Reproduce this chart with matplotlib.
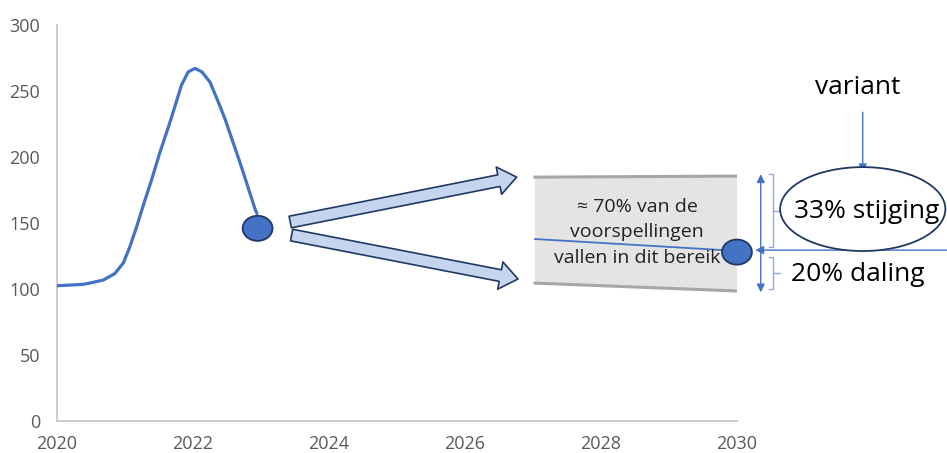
import matplotlib.pyplot as plt
from matplotlib.patches import Ellipse, FancyArrowPatch, Polygon

plt.rcParams['font.family'] = ['Open Sans', 'DejaVu Sans']

# curve
years = [2020.0, 2020.19, 2020.39, 2020.49, 2020.68, 2020.85, 2020.975, 2021.07,
         2021.17, 2021.27, 2021.39, 2021.51, 2021.64, 2021.74, 2021.83, 2021.93,
         2022.03, 2022.13, 2022.25, 2022.37, 2022.47, 2022.57, 2022.69, 2022.81,
         2022.91, 2022.94]
values = [102.5, 103.0, 103.6, 104.6, 106.8, 111.7, 119.7, 131.8,
          147.0, 163.6, 182.6, 203.0, 223.0, 239.4, 254.5, 264.6,
          267.2, 264.6, 256.8, 242.0, 229.0, 214.0, 196.0, 177.0,
          161.0, 157.3]

# markers
pt_now = (2022.95, 146)
pt_end = (2030.0, 128)

# forecast band (left, right)
band_x = [2027.03, 2030.01]
band_top = [184.8, 185.6]
band_bottom = [104.5, 98.5]
band_line = [137.9, 129.5]

xticks = [2020, 2022, 2024, 2026, 2028, 2030]
yticks = [0, 50, 100, 150, 200, 250, 300]

blue = '#4472C4'
navy = '#1F3864'
light = '#8FAADC'

fig = plt.figure(figsize=(9.47, 4.53), dpi=100)
ax = fig.add_axes([0.0602, 0.0706, 0.718, 0.874])
ax.set_xlim(2020, 2030)
ax.set_ylim(0, 300)
ax.set_xticks(xticks)
ax.set_yticks(yticks)
ax.tick_params(length=0, labelsize=13, colors='#595959')
ax.tick_params(axis='y', pad=12)
ax.tick_params(axis='x', pad=10)
for s in ['top', 'right']:
    ax.spines[s].set_visible(False)
for s in ['left', 'bottom']:
    ax.spines[s].set_color('#C8C8C8')
    ax.spines[s].set_linewidth(1.3)

ax.plot(years, values, color=blue, lw=2.3, solid_capstyle='round',
        solid_joinstyle='round', zorder=3)

# band
poly = Polygon([(band_x[0], band_bottom[0]), (band_x[0], band_top[0]),
                (band_x[1], band_top[1]), (band_x[1], band_bottom[1])],
               closed=True, facecolor='#E4E4E4', edgecolor='none', zorder=1)
ax.add_patch(poly)
ax.plot(band_x, band_top, color='#A6A6A6', lw=2.2, zorder=2)
ax.plot(band_x, band_bottom, color='#A6A6A6', lw=2.2, zorder=2)
ax.plot([band_x[0], pt_end[0] - 0.2], band_line, color=blue, lw=1.3, zorder=2)
ax.text(2028.53, 143, '≈ 70% van de\nvoorspellingen\nvallen in dit bereik',
        ha='center', va='center', fontsize=14, color='#222222',
        linespacing=1.55, zorder=4)

# markers
for p in [pt_now, pt_end]:
    ax.add_patch(Ellipse(p, 0.44, 19, facecolor=blue, edgecolor=navy,
                         lw=1.3, zorder=5, clip_on=False))

# block arrows
style = 'Simple,tail_width=8.5,head_width=20,head_length=13'
for start, end in [((2023.43, 150.8), (2026.76, 184.8)),
                   ((2023.45, 140.9), (2026.78, 107.6))]:
    ax.add_patch(FancyArrowPatch(start, end, arrowstyle=style, mutation_scale=1,
                                 facecolor='#C5D5EE', edgecolor=navy, lw=1.2,
                                 shrinkA=0, shrinkB=0, zorder=4))

# right side annotations
ax.annotate('', xy=(2030.35, 187), xytext=(2030.35, 97.5),
            arrowprops=dict(arrowstyle='<|-|>', color=blue, lw=1.0,
                            mutation_scale=12, shrinkA=0, shrinkB=0),
            annotation_clip=False)
ax.annotate('', xy=(2030.27, 129.5), xytext=(2033.2, 129.5),
            arrowprops=dict(arrowstyle='-|>', color=blue, lw=1.0,
                            mutation_scale=12, shrinkA=0, shrinkB=0),
            annotation_clip=False)
ax.annotate('', xy=(2031.85, 188.5), xytext=(2031.85, 234),
            arrowprops=dict(arrowstyle='-|>', color=blue, lw=1.0,
                            mutation_scale=12, shrinkA=0, shrinkB=0),
            annotation_clip=False)

for top, bot in [(187, 131.8), (124.2, 100)]:
    mid = (top + bot) / 2
    bx = 2030.53
    ax.plot([bx - 0.06, bx, bx, bx - 0.06], [top, top, bot, bot],
            color=light, lw=1.0, clip_on=False)
    ax.plot([bx, bx + 0.1], [mid, mid], color=light, lw=1.0, clip_on=False)

ax.add_patch(Ellipse((2031.85, 160.6), 2.43, 63.6, facecolor='white',
                     edgecolor=navy, lw=1.3, clip_on=False, zorder=3))
ax.text(2031.9, 159, '33% stijging', ha='center', va='center', fontsize=19,
        color='black', zorder=4)
ax.text(2031.78, 111, '20% daling', ha='center', va='center', fontsize=19,
        color='black')
ax.text(2031.78, 253, 'variant', ha='center', va='center', fontsize=19,
        color='black')

fig.savefig('out.png', dpi=100)
